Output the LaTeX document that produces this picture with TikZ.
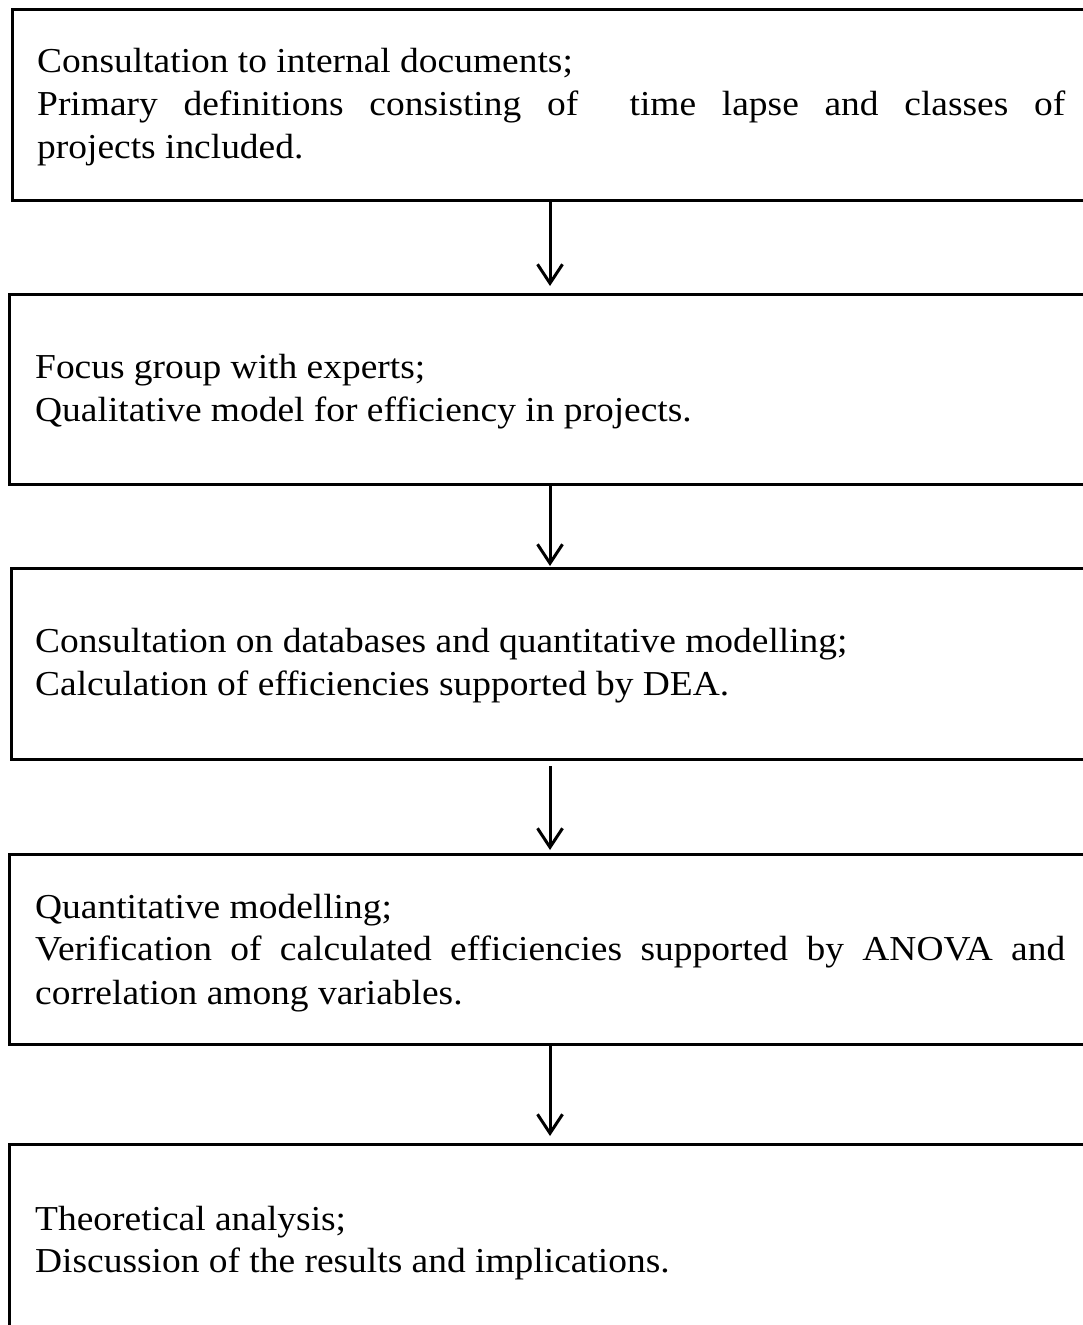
\documentclass[tikz,border=0pt]{standalone}
\usepackage{fontspec}
\setmainfont{Liberation Serif}[FakeStretch=1.07]
\usetikzlibrary{arrows.meta}
\begin{document}
\begin{tikzpicture}[x=1pt,y=-1pt,
  stagebox/.style={draw, line width=3pt, rectangle, anchor=north west,
    minimum width=1120pt, inner sep=0pt},
  stagetext/.style={anchor=base west, inner sep=0pt,
    font=\fontsize{35}{43}\selectfont},
  flow/.style={line width=3pt,
    -{Straight Barb[length=19pt,width=25pt]}}]
\useasboundingbox (0,0) rectangle (1083,1325);
\fill[white] (0,0) rectangle (1083,1325);
\clip (0,0) rectangle (1083,1325);

% stage boxes (they run on past the right and bottom edges)
\node[stagebox, minimum height=191pt] (b1) at (11,8) {};
\node[stagebox, minimum height=190pt] (b2) at (8,293) {};
\node[stagebox, minimum height=191pt] (b3) at (10,567) {};
\node[stagebox, minimum height=190pt] (b4) at (8,853) {};
\node[stagebox, minimum height=300pt] (b5) at (8,1143) {};

% stage texts
\node[stagetext] (t1a) at (37,72) {Consultation to internal documents;};
\node[stagetext] (t1b) at (37,115) {\makebox[1028pt][s]{Primary definitions consisting of\ \ time lapse and classes of}};
\node[stagetext] (t1c) at (37,158) {projects included.};

\node[stagetext] (t2a) at (35,378) {Focus group with experts;};
\node[stagetext] (t2b) at (35,421) {Qualitative model for efficiency in projects.};

\node[stagetext] (t3a) at (35,652) {Consultation on databases and quantitative modelling;};
\node[stagetext] (t3b) at (35,695) {Calculation of efficiencies supported by DEA.};

\node[stagetext] (t4a) at (35,918) {Quantitative modelling;};
\node[stagetext] (t4b) at (35,960) {\makebox[1030pt][s]{Verification of calculated efficiencies supported by ANOVA and}};
\node[stagetext] (t4c) at (35,1004) {correlation among variables.};

\node[stagetext] (t5a) at (35,1230) {Theoretical analysis;};
\node[stagetext] (t5b) at (35,1272) {Discussion of the results and implications.};

% connectors between stages
\coordinate (ax) at (550,0);
\draw[flow, shorten >=7pt] (b1.south -| ax) -- (b2.north -| ax);
\draw[flow, shorten >=1pt] (b2.south -| ax) -- (b3.north -| ax);
\draw[flow, shorten <=5pt, shorten >=3pt] (b3.south -| ax) -- (b4.north -| ax);
\draw[flow, shorten >=7pt] (b4.south -| ax) -- (b5.north -| ax);
\end{tikzpicture}
\end{document}
